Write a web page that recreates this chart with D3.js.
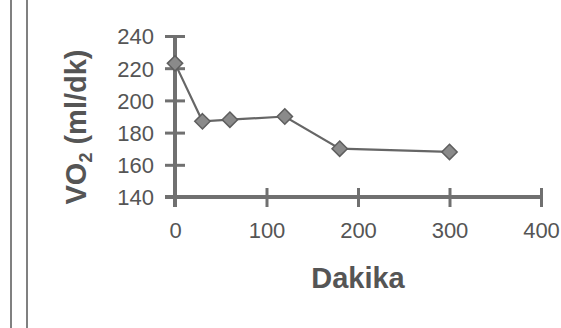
<!DOCTYPE html>
<html>
<head>
<meta charset="utf-8">
<script src="https://cdn.jsdelivr.net/npm/d3@7"></script>
<style>
  body { margin:0; background:#fff; }
  svg { display:block; }
  .lbl { font-family: Arial, "Liberation Sans", sans-serif; fill:#555; }
</style>
</head>
<body>
<svg id="viz-svg" width="561" height="328"></svg>
<script>
// data
var minutes = [0, 30, 60, 120, 180, 300]
  , vo2 = [223, 187, 188, 190, 170, 168]
  , xTicks = [0, 100, 200, 300, 400]
  , yTicks = [140, 160, 180, 200, 220, 240]
  , xTitle = "Dakika"
  ;

var svg = d3.select("#viz-svg")
  , axisColor = "#707070"
  , x = d3.scaleLinear().domain([0,400]).range([175,541])
  , y = d3.scaleLinear().domain([140,240]).range([197,36]);

// page border lines on the left
svg.selectAll(".border")
  .data([11,27])
  .enter().append("line")
  .attr("x1",function(d){ return d; })
  .attr("x2",function(d){ return d; })
  .attr("y1",0).attr("y2",328)
  .attr("stroke","#808080")
  .attr("stroke-width",2);

// x axis, ticks cross the line
var gx = svg.append("g")
  .attr("transform","translate(0,"+y(140)+")")
  .call(d3.axisBottom(x).tickValues(xTicks).tickSize(0).tickPadding(0));
gx.select(".domain").remove();
gx.append("line")
  .attr("x1",x(0)-10).attr("x2",x(400))
  .attr("stroke",axisColor).attr("stroke-width",4);
gx.selectAll(".tick line")
  .attr("y1",-9).attr("y2",10)
  .attr("stroke",axisColor).attr("stroke-width",3);
gx.selectAll(".tick text")
  .attr("class","lbl")
  .attr("y",41).attr("dy",null)
  .style("font-size","22px");

// y axis
var gy = svg.append("g")
  .attr("transform","translate("+x(0)+",0)")
  .call(d3.axisLeft(y).tickValues(yTicks).tickSize(0).tickPadding(0));
gy.select(".domain").remove();
gy.append("line")
  .attr("y1",y(240)).attr("y2",y(140)+10)
  .attr("stroke",axisColor).attr("stroke-width",4);
gy.selectAll(".tick line")
  .attr("x1",-10).attr("x2",10)
  .attr("stroke",axisColor).attr("stroke-width",3);
gy.selectAll(".tick text")
  .attr("class","lbl")
  .attr("x",-21).attr("dy","0.36em")
  .style("font-size","22px");

// series
var line = d3.line()
  .x(function(d,i){ return x(minutes[i]); })
  .y(function(d){ return y(d); });

svg.append("path")
  .datum(vo2)
  .attr("fill","none")
  .attr("stroke","#666")
  .attr("stroke-width",2.2)
  .attr("d",line);

svg.selectAll(".pt")
  .data(vo2)
  .enter().append("path")
  .attr("class","pt")
  .attr("transform",function(d,i){ return "translate("+x(minutes[i])+","+y(d)+")"; })
  .attr("d",d3.symbol().type(d3.symbolDiamond2).size(150))
  .attr("fill","#8a8a8a")
  .attr("stroke","#5e5e5e")
  .attr("stroke-width",1.5);

// titles
svg.append("text")
  .attr("class","lbl")
  .attr("x",(x(0)+x(400))/2)
  .attr("y",288)
  .attr("text-anchor","middle")
  .style("font-size","29px")
  .style("font-weight","bold")
  .text(xTitle);

var yt = svg.append("text")
  .attr("class","lbl")
  .attr("transform","translate(86,127) rotate(-90)")
  .attr("text-anchor","middle")
  .style("font-size","29px")
  .style("font-weight","bold");
yt.append("tspan").text("VO");
yt.append("tspan").attr("dy",6).style("font-size","18px").text("2");
yt.append("tspan").attr("dy",-6).text(" (ml/dk)");
</script>
</body>
</html>
